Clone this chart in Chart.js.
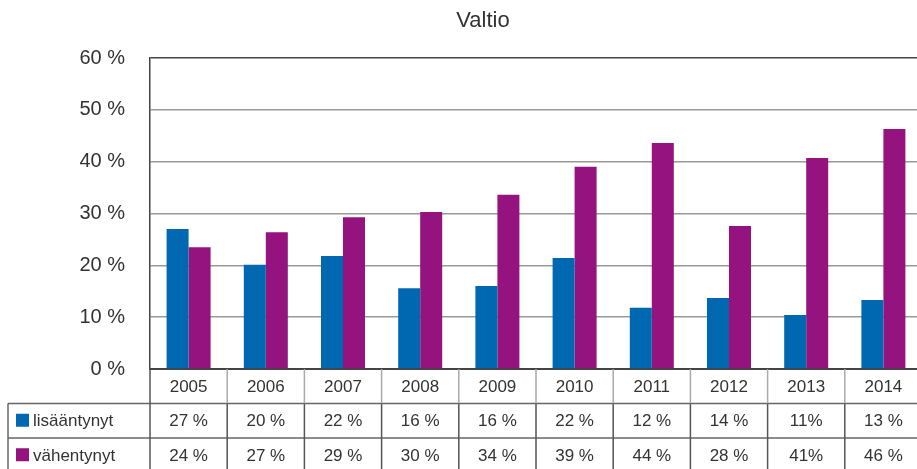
<!DOCTYPE html>
<html lang="fi">
<head>
<meta charset="UTF-8">
<title>Valtio</title>
<script src="https://cdn.jsdelivr.net/npm/chart.js"></script>
<style>
  html, body { margin: 0; padding: 0; overflow: hidden; background: #fff; }
  #wrap { width: 922px; height: 469px; }
</style>
</head>
<body>
<div id="wrap"><canvas id="valtioChart"></canvas></div>
<script>
// chart data
const years = ['2005', '2006', '2007', '2008', '2009', '2010', '2011', '2012', '2013', '2014'];
const lisaantynyt = [27.0, 20.1, 21.8, 15.6, 16.0, 21.4, 11.8, 13.7, 10.4, 13.3];
const vahentynyt = [23.5, 26.4, 29.3, 30.3, 33.6, 39.0, 43.6, 27.6, 40.7, 46.3];
const lisaantynytText = ['27 %', '20 %', '22 %', '16 %', '16 %', '22 %', '12 %', '14 %', '11%', '13 %'];
const vahentynytText = ['24 %', '27 %', '29 %', '30 %', '34 %', '39 %', '44 %', '28 %', '41%', '46 %'];
const seriesNames = ['lisääntynyt', 'vähentynyt'];
const title = 'Valtio';

const blue = '#0068b0';
const purple = '#94137e';
const font = '"Liberation Sans", Arial, sans-serif';

// draws the title and the data table under the plot
const tablePlugin = {
  id: 'dataTable',
  afterDraw(chart) {
    const ctx = chart.ctx;
    const area = chart.chartArea;
    const x = chart.scales.x;
    const rowH = 34.5;
    const top = area.bottom;
    const half = (x.getPixelForValue(1) - x.getPixelForValue(0)) / 2;
    ctx.save();

    ctx.fillStyle = '#333';
    ctx.font = '22px ' + font;
    ctx.textAlign = 'center';
    ctx.textBaseline = 'middle';
    ctx.fillText(title, 483, 21);

    // horizontal lines
    ctx.strokeStyle = '#666';
    ctx.lineWidth = 1.5;
    [1, 2].forEach(r => {
      ctx.beginPath();
      ctx.moveTo(8, top + rowH * r);
      ctx.lineTo(chart.width, top + rowH * r);
      ctx.stroke();
    });
    // left border of label column
    ctx.beginPath();
    ctx.moveTo(8, top + rowH);
    ctx.lineTo(8, chart.height);
    ctx.stroke();

    // vertical cell lines
    years.forEach((y, i) => {
      const left = x.getPixelForValue(i) - half;
      ctx.strokeStyle = i === 0 ? '#555' : '#aaa';
      ctx.beginPath();
      ctx.moveTo(left, top);
      ctx.lineTo(left, top + rowH);
      ctx.stroke();
      ctx.strokeStyle = '#555';
      ctx.beginPath();
      ctx.moveTo(left, top + rowH);
      ctx.lineTo(left, chart.height);
      ctx.stroke();
    });

    // cell text
    ctx.fillStyle = '#333';
    ctx.font = '17px ' + font;
    ctx.textAlign = 'center';
    years.forEach((y, i) => {
      const cx = x.getPixelForValue(i);
      ctx.fillText(y, cx, top + rowH * 0.5 + 1);
      ctx.fillText(lisaantynytText[i], cx, top + rowH * 1.5 + 1);
      ctx.fillText(vahentynytText[i], cx, top + rowH * 2.5 + 1);
    });

    // row labels with swatches
    ctx.textAlign = 'left';
    [blue, purple].forEach((c, r) => {
      const cy = top + rowH * (r + 1.5);
      ctx.fillStyle = c;
      ctx.fillRect(16, cy - 7, 13, 13);
      ctx.fillStyle = '#333';
      ctx.fillText(seriesNames[r], 33, cy + 1);
    });
    ctx.restore();
  }
};

new Chart(document.getElementById('valtioChart'), {
  type: 'bar',
  data: {
    labels: years,
    datasets: [
      { label: seriesNames[0], data: lisaantynyt, backgroundColor: blue },
      { label: seriesNames[1], data: vahentynyt, backgroundColor: purple }
    ]
  },
  options: {
    responsive: true,
    maintainAspectRatio: false,
    animation: false,
    datasets: { bar: { barPercentage: 1, categoryPercentage: 0.57 } },
    layout: { padding: { top: 58, bottom: 100, left: 0, right: 0 } },
    plugins: {
      legend: { display: false },
      title: { display: false },
      tooltip: { enabled: false }
    },
    scales: {
      x: {
        ticks: { display: false },
        grid: { display: false, drawTicks: false },
        border: { color: '#444', width: 2 }
      },
      y: {
        min: 0,
        max: 60,
        afterFit(scale) { scale.width = 150; },
        ticks: {
          stepSize: 10,
          padding: 25,
          color: '#333',
          font: { family: font, size: 20 },
          callback: v => v + ' %'
        },
        grid: {
          drawTicks: false,
          color: c => (c.tick.value === 60 ? '#444' : '#999'),
          lineWidth: 1.5
        },
        border: { color: '#444', width: 1.5 }
      }
    }
  },
  plugins: [tablePlugin]
});
</script>
</body>
</html>
